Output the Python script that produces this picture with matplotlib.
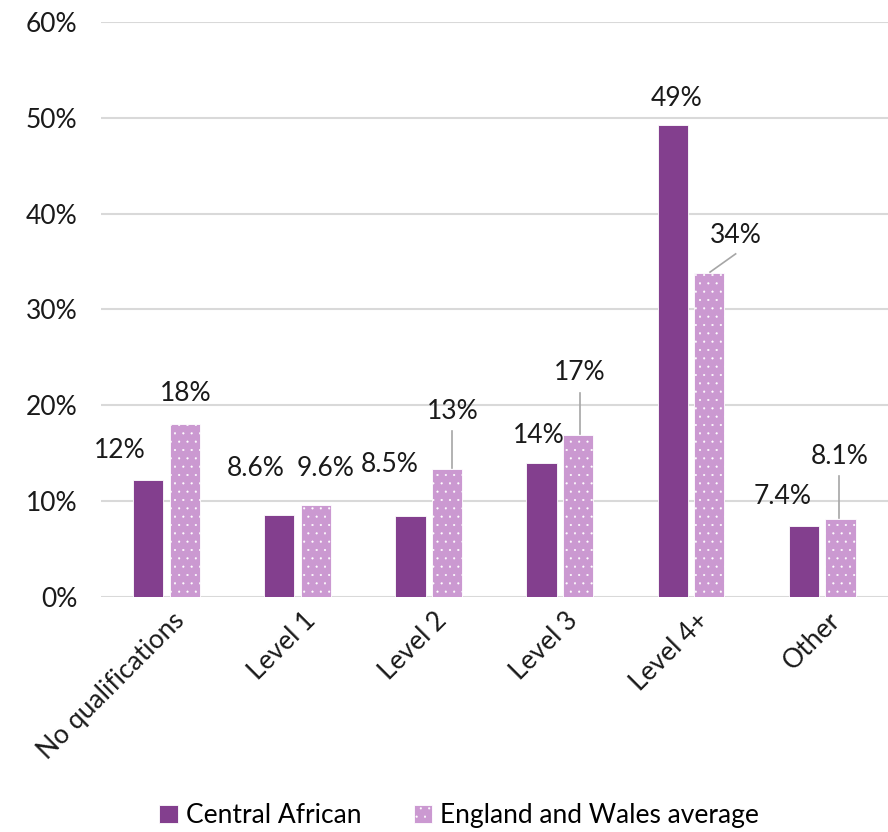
import matplotlib
matplotlib.use("Agg")
import matplotlib.pyplot as plt
import numpy as np

plt.rcParams["font.family"] = ["Lato", "DejaVu Sans"]
plt.rcParams["hatch.linewidth"] = 0.3

categories = ["No qualifications", "Level 1", "Level 2", "Level 3", "Level 4+", "Other"]
central_african = [12.2, 8.6, 8.5, 14.0, 49.2, 7.4]
ew_average = [18.1, 9.6, 13.4, 16.9, 33.8, 8.1]
ca_labels = ["12%", "8.6%", "8.5%", "14%", "49%", "7.4%"]
ew_labels = ["18%", "9.6%", "13%", "17%", "34%", "8.1%"]

# label offsets (data units) from the top-centre of each bar
ca_dx = [-0.22, -0.18, -0.16, -0.02, 0.03, -0.16]
ca_dy = [3.1, 4.8, 5.3, 2.8, 2.8, 3.1]
ew_dx = [0.01, 0.07, 0.04, 0.01, 0.20, -0.01]
ew_dy = [3.1, 3.8, 6.0, 6.5, 3.9, 6.6]
ew_leader = [False, False, True, True, True, True]

CA_COLOR = "#833F8E"
EW_COLOR = "#CB99D1"
GRID = "#D9D9D9"
FS = 19

fig = plt.figure(figsize=(8.88, 8.32), dpi=100)
ax = fig.add_axes([0.1137, 0.2825, 0.886, 0.6911])

x = np.arange(len(categories))
w = 0.23
off = 0.14
ax.bar(x - off, central_african, w, color=CA_COLOR, edgecolor="white", linewidth=0.6, zorder=3,
       label="Central African")
ax.bar(x + off, ew_average, w, color=EW_COLOR, edgecolor="white", linewidth=0.6, hatch="..",
       zorder=3, label="England and Wales average")

for i in range(len(categories)):
    ax.text(x[i] - off + ca_dx[i], central_african[i] + ca_dy[i], ca_labels[i],
            ha="center", va="center", fontsize=FS, color="#1a1a1a")
    tx, ty = x[i] + off + ew_dx[i], ew_average[i] + ew_dy[i]
    ax.text(tx, ty, ew_labels[i], ha="center", va="center", fontsize=FS, color="#1a1a1a")
    if ew_leader[i]:
        if abs(ew_dx[i]) > 0.1:
            ax.plot([tx, x[i] + off + 0.005], [ty - 1.9, ew_average[i] + 0.1],
                    color="#A6A6A6", lw=1.2, zorder=4)
        else:
            ax.plot([tx, tx], [ty - 2.1, ew_average[i] + 0.1],
                    color="#A6A6A6", lw=1.2, zorder=4)

ax.set_xlim(-0.5, len(categories) - 0.5)
ax.set_ylim(0, 60)
ax.set_yticks(np.arange(0, 61, 10))
ax.set_yticklabels([f"{v}%" for v in range(0, 61, 10)])
ax.set_xticks(x + 0.04)
ax.set_xticklabels(categories, rotation=45, ha="right", rotation_mode="anchor")
ax.tick_params(axis="both", length=0, labelsize=FS, colors="#1a1a1a")
ax.tick_params(axis="y", pad=17)
ax.tick_params(axis="x", pad=8)
ax.grid(axis="y", color=GRID, lw=1.5, zorder=0)
for s in ax.spines.values():
    s.set_visible(False)

fig.legend(loc="lower center", bbox_to_anchor=(0.517, -0.024), ncol=2, frameon=False,
           fontsize=FS, handlelength=0.7, handleheight=0.7, handletextpad=0.3,
           columnspacing=2.0)

fig.savefig("out.png", dpi=100)
